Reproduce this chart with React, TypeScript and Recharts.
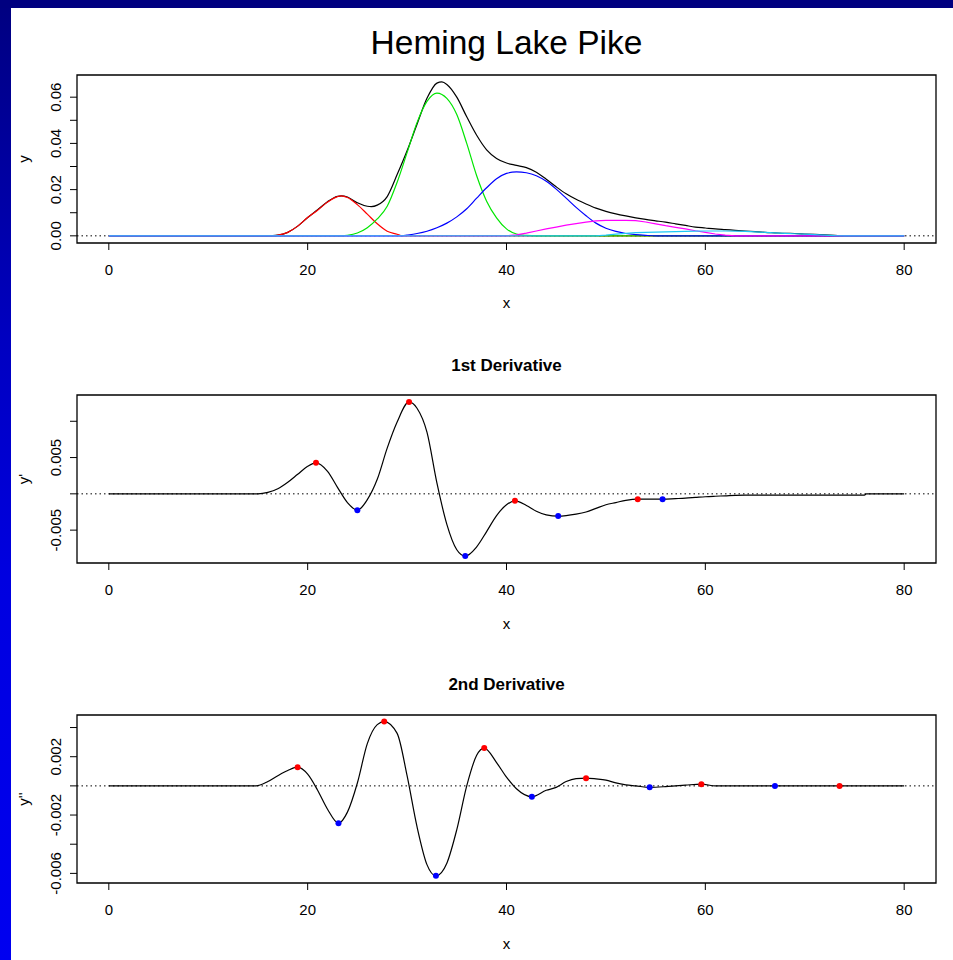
import React from 'react';
import {
  ComposedChart, Line, Scatter, XAxis, YAxis, ReferenceLine, ReferenceArea,
} from 'recharts';

// fitted mixture densities (Heming Lake pike lengths)
const totalX = [0, 16, 17, 18, 19, 20, 21, 22, 23, 23.4, 24, 25, 26, 26.4, 27, 28, 29, 30, 31, 32, 33, 33.5, 34, 35, 36, 37, 38, 39, 40, 41, 42, 43, 44, 45, 46, 47, 48, 49, 50, 51, 52, 53, 54, 55, 56, 57, 58, 59, 60, 61, 62, 63, 64, 65, 66, 67, 68, 69, 70, 71, 72, 73, 74, 80];
const totalY = [0, 0, 0.0003, 0.0015, 0.0042, 0.0079, 0.0113, 0.0148, 0.0171, 0.0173, 0.0168, 0.0143, 0.0128, 0.01265, 0.0133, 0.017, 0.0265, 0.0368, 0.0483, 0.0595, 0.0661, 0.0666, 0.0655, 0.06, 0.0515, 0.0435, 0.0372, 0.0335, 0.0315, 0.0305, 0.0295, 0.0275, 0.0245, 0.0212, 0.0182, 0.0158, 0.0138, 0.012, 0.0106, 0.0095, 0.0086, 0.0078, 0.0071, 0.0065, 0.0059, 0.0052, 0.0045, 0.0038, 0.0034, 0.003, 0.0027, 0.0024, 0.0021, 0.0018, 0.0015, 0.0013, 0.0011, 0.001, 0.0008, 0.0006, 0.0004, 0.0002, 0, 0];

const redX = [0, 16.5, 17, 18, 19, 20, 21, 22, 23, 23.35, 24, 25, 26, 27, 28, 29, 29.5, 80];
const redY = [0, 0, 0.0003, 0.0015, 0.0042, 0.0079, 0.0111, 0.0146, 0.017, 0.0173, 0.0166, 0.0135, 0.0094, 0.0052, 0.002, 0.0007, 0, 0];

const greenX = [0, 23.5, 24, 25, 26, 27, 28, 29, 30, 31, 32, 33, 34, 35, 36, 37, 38, 39, 40, 41, 42, 43, 80];
const greenY = [0, 0, 0.0002, 0.0012, 0.0035, 0.0073, 0.0128, 0.0232, 0.036, 0.049, 0.0582, 0.0618, 0.0595, 0.0525, 0.04, 0.026, 0.015, 0.0078, 0.003, 0.0008, 0.0002, 0, 0];

const blueX = [0, 29.5, 30, 31, 32, 33, 34, 35, 36, 37, 38, 39, 40, 41, 42, 43, 44, 45, 46, 47, 48, 49, 50, 51, 52, 53, 54, 55, 80];
const blueY = [0, 0, 0.0003, 0.001, 0.002, 0.0035, 0.0055, 0.0082, 0.0117, 0.0163, 0.0208, 0.0247, 0.027, 0.0277, 0.0273, 0.026, 0.0236, 0.0202, 0.0163, 0.0123, 0.0087, 0.0055, 0.0033, 0.0019, 0.001, 0.0005, 0.0002, 0, 0];

const magentaX = [0, 40, 41, 42, 43, 44, 45, 46, 47, 48, 49, 50, 51, 52, 53, 54, 55, 56, 57, 58, 59, 60, 61, 62, 63, 80];
const magentaY = [0, 0, 0.0004, 0.0012, 0.0021, 0.003, 0.0038, 0.0046, 0.0053, 0.0059, 0.0065, 0.0067, 0.0067, 0.0067, 0.0066, 0.006, 0.0052, 0.0044, 0.0037, 0.003, 0.0022, 0.0015, 0.0008, 0.0003, 0, 0];

const cyanX = [0, 49, 50, 51, 52, 53, 54, 55, 56, 57, 58, 59, 60, 61, 62, 63, 64, 65, 66, 67, 68, 69, 70, 71, 72, 73, 74, 80];
const cyanY = [0, 0, 0.0003, 0.0007, 0.0011, 0.0014, 0.0015, 0.0016, 0.0017, 0.0018, 0.0019, 0.002, 0.0021, 0.0021, 0.0021, 0.002, 0.0019, 0.0017, 0.0015, 0.0013, 0.0011, 0.0009, 0.0007, 0.0005, 0.0003, 0.0001, 0, 0];

// first derivative
const d1X = [0, 15, 16, 17, 18, 19, 20, 20.84, 22, 23, 24, 25, 26, 27, 28, 29, 30.2, 31, 32, 33, 34, 35, 35.85, 37, 38, 39, 40, 40.85, 42, 43, 44, 45.2, 46, 47, 48, 49, 50, 51, 52, 53.2, 54, 55, 55.7, 57, 58, 59, 60, 61, 62, 63, 64, 76, 76.2, 80];
const d1Y = [0, 0, 0.0002, 0.0007, 0.0016, 0.0027, 0.0038, 0.00427, 0.0031, 0.0009, -0.0012, -0.00225, -0.0008, 0.002, 0.0063, 0.0099, 0.01267, 0.0118, 0.0085, 0.0015, -0.0042, -0.0077, -0.00858, -0.0073, -0.0052, -0.003, -0.0015, -0.00096, -0.0016, -0.0024, -0.0029, -0.00307, -0.003, -0.0028, -0.0025, -0.002, -0.0015, -0.0012, -0.0009, -0.00073, -0.00073, -0.00073, -0.00073, -0.00066, -0.0006, -0.0005, -0.0004, -0.00033, -0.00027, -0.0002, -0.00018, -0.00018, 0, 0];
const d1MaxX = [20.84, 30.2, 40.85, 53.2];
const d1MaxY = [0.00427, 0.01267, -0.00096, -0.00073];
const d1MinX = [25, 35.85, 45.2, 55.7];
const d1MinY = [-0.00225, -0.00858, -0.00307, -0.00073];

// second derivative
const d2X = [0, 14.8, 16, 17, 18, 18.99, 20, 21, 22, 23.1, 24, 25, 26, 27, 27.7, 29, 30, 31, 32, 32.9, 34, 35, 36, 37, 37.76, 39, 40, 41, 42.55, 44, 45, 46, 47, 48, 49, 50, 51, 52, 53, 54.4, 56, 57, 58, 59.6, 61, 80];
const d2Y = [0, 0, 0.0003, 0.0007, 0.00105, 0.00128, 0.0008, -0.0003, -0.0016, -0.00256, -0.0018, 0.0002, 0.0029, 0.0042, 0.00441, 0.0036, 0.0007, -0.0028, -0.0054, -0.00617, -0.0053, -0.003, 0, 0.0021, 0.00259, 0.0016, 0.0006, -0.0002, -0.00075, -0.0003, -0.0001, 0.0003, 0.0005, 0.00053, 0.00048, 0.0004, 0.0002, 0.00007, 0, -0.0001, -0.00005, 0, 0.00005, 0.00012, 0, 0];
const d2MaxX = [18.99, 27.7, 37.76, 48, 59.6, 73.5];
const d2MaxY = [0.00128, 0.00441, 0.00259, 0.00053, 0.00012, 0];
const d2MinX = [23.1, 32.9, 42.55, 54.4, 67];
const d2MinY = [-0.00256, -0.00617, -0.00075, -0.0001, 0];

const xTicks = [0, 20, 40, 60, 80];
const yTicks1 = [0, 0.01, 0.02, 0.03, 0.04, 0.05, 0.06];
const yLabels1 = ['0.00', '', '0.02', '', '0.04', '', '0.06'];
const yTicks2 = [-0.005, 0, 0.005, 0.01];
const yLabels2 = ['-0.005', '', '0.005', ''];
const yTicks3 = [-0.006, -0.004, -0.002, 0, 0.002, 0.004];
const yLabels3 = ['-0.006', '', '-0.002', '', '0.002', ''];

const FONT = '"Liberation Sans", Arial, Helvetica, sans-serif';
const XMIN = -3.2;
const XMAX = 83.2;

const zip = (xs: number[], ys: number[]) => xs.map((x, i) => ({ x, y: ys[i] }));

const XTick = (p: any) => (
  <text x={p.x} y={p.y + 23} textAnchor="middle" fontSize={15} fontFamily={FONT} fill="#000">
    {p.payload.value}
  </text>
);

const makeYTick = (ticks: number[], labels: string[]) => (p: any) => {
  const i = ticks.findIndex(t => Math.abs(t - p.payload.value) < 1e-9);
  const lab = i >= 0 ? labels[i] : '';
  if (!lab) return <g />;
  const bx = p.x - 7;
  return (
    <text x={bx} y={p.y} transform={`rotate(-90 ${bx} ${p.y})`} textAnchor="middle"
      fontSize={15} fontFamily={FONT} fill="#000">
      {lab}
    </text>
  );
};

const Dot = (color: string) => (p: any) => <circle cx={p.cx} cy={p.cy} r={3} fill={color} />;

function Panel({ top, yDomain, yTicks, yLabels, children }: any) {
  return (
    <div style={{ position: 'absolute', left: 0, top }}>
      <ComposedChart width={953} height={283} margin={{ top: 75, right: 17, bottom: 0, left: 17 }}>
        <XAxis type="number" dataKey="x" domain={[XMIN, XMAX]} ticks={xTicks} allowDataOverflow
          axisLine={false} tickSize={7} tickLine={{ stroke: '#000' }} height={40} interval={0} tick={XTick} />
        <YAxis type="number" dataKey="y" domain={yDomain} ticks={yTicks} allowDataOverflow
          axisLine={false} tickSize={7} tickLine={{ stroke: '#000' }} width={60} interval={0}
          tick={makeYTick(yTicks, yLabels)} />
        <ReferenceLine y={0} stroke="#000" strokeDasharray="1.5 3" />
        {children}
        <ReferenceArea x1={XMIN} x2={XMAX} y1={yDomain[0]} y2={yDomain[1]} fill="none" stroke="#000" strokeWidth={1.3} />
      </ComposedChart>
    </div>
  );
}

export default function App() {
  const line = (xs: number[], ys: number[], color: string, type: any = 'monotone') => (
    <Line data={zip(xs, ys)} dataKey="y" type={type} stroke={color} strokeWidth={1.2}
      dot={false} activeDot={false} isAnimationActive={false} />
  );
  return (
    <div style={{ position: 'absolute', left: 0, top: 0, width: 953, height: 960, overflow: 'hidden', background: '#fff' }}>
      <svg width={953} height={960} style={{ position: 'absolute', left: 0, top: 0 }}>
        <defs>
          <linearGradient id="side" x1="0" y1="0" x2="0" y2="1">
            <stop offset="0" stopColor="#000080" />
            <stop offset="0.35" stopColor="#0000c0" />
            <stop offset="0.6" stopColor="#0000e0" />
            <stop offset="1" stopColor="#0000f0" />
          </linearGradient>
        </defs>
        <rect x={0} y={0} width={11} height={960} fill="url(#side)" />
        <rect x={0} y={0} width={953} height={8} fill="#000080" />
        <g fontFamily={FONT} fill="#000" textAnchor="middle">
          <text x={506.5} y={54} fontSize={33.5}>Heming Lake Pike</text>
          <text x={506.5} y={371} fontSize={17} fontWeight="bold">1st Derivative</text>
          <text x={506.5} y={690} fontSize={17} fontWeight="bold">2nd Derivative</text>
          <text x={506.5} y={308} fontSize={15}>x</text>
          <text x={506.5} y={629} fontSize={15}>x</text>
          <text x={506.5} y={949} fontSize={15}>x</text>
          <text x={29} y={159} fontSize={15} transform="rotate(-90 29 159)">y</text>
          <text x={29} y={479} fontSize={15} transform="rotate(-90 29 479)">y'</text>
          <text x={29} y={799} fontSize={15} transform="rotate(-90 29 799)">y''</text>
        </g>
      </svg>

      <Panel top={0} yDomain={[-0.0031, 0.0696]} yTicks={yTicks1} yLabels={yLabels1}>
        {line(totalX, totalY, '#000000')}
        {line(redX, redY, '#ff0000')}
        {line(greenX, greenY, '#00e600')}
        {line(blueX, blueY, '#0000ff')}
        {line(magentaX, magentaY, '#ff00ff', 'linear')}
        {line(cyanX, cyanY, '#1ec8f5', 'linear')}
      </Panel>

      <Panel top={320} yDomain={[-0.00953, 0.01362]} yTicks={yTicks2} yLabels={yLabels2}>
        {line(d1X, d1Y, '#000000')}
        <Scatter data={zip(d1MaxX, d1MaxY)} dataKey="y" shape={Dot('#ff0000')} isAnimationActive={false} />
        <Scatter data={zip(d1MinX, d1MinY)} dataKey="y" shape={Dot('#0000ff')} isAnimationActive={false} />
      </Panel>

      <Panel top={640} yDomain={[-0.00666, 0.00486]} yTicks={yTicks3} yLabels={yLabels3}>
        {line(d2X, d2Y, '#000000')}
        <Scatter data={zip(d2MaxX, d2MaxY)} dataKey="y" shape={Dot('#ff0000')} isAnimationActive={false} />
        <Scatter data={zip(d2MinX, d2MinY)} dataKey="y" shape={Dot('#0000ff')} isAnimationActive={false} />
      </Panel>
    </div>
  );
}
